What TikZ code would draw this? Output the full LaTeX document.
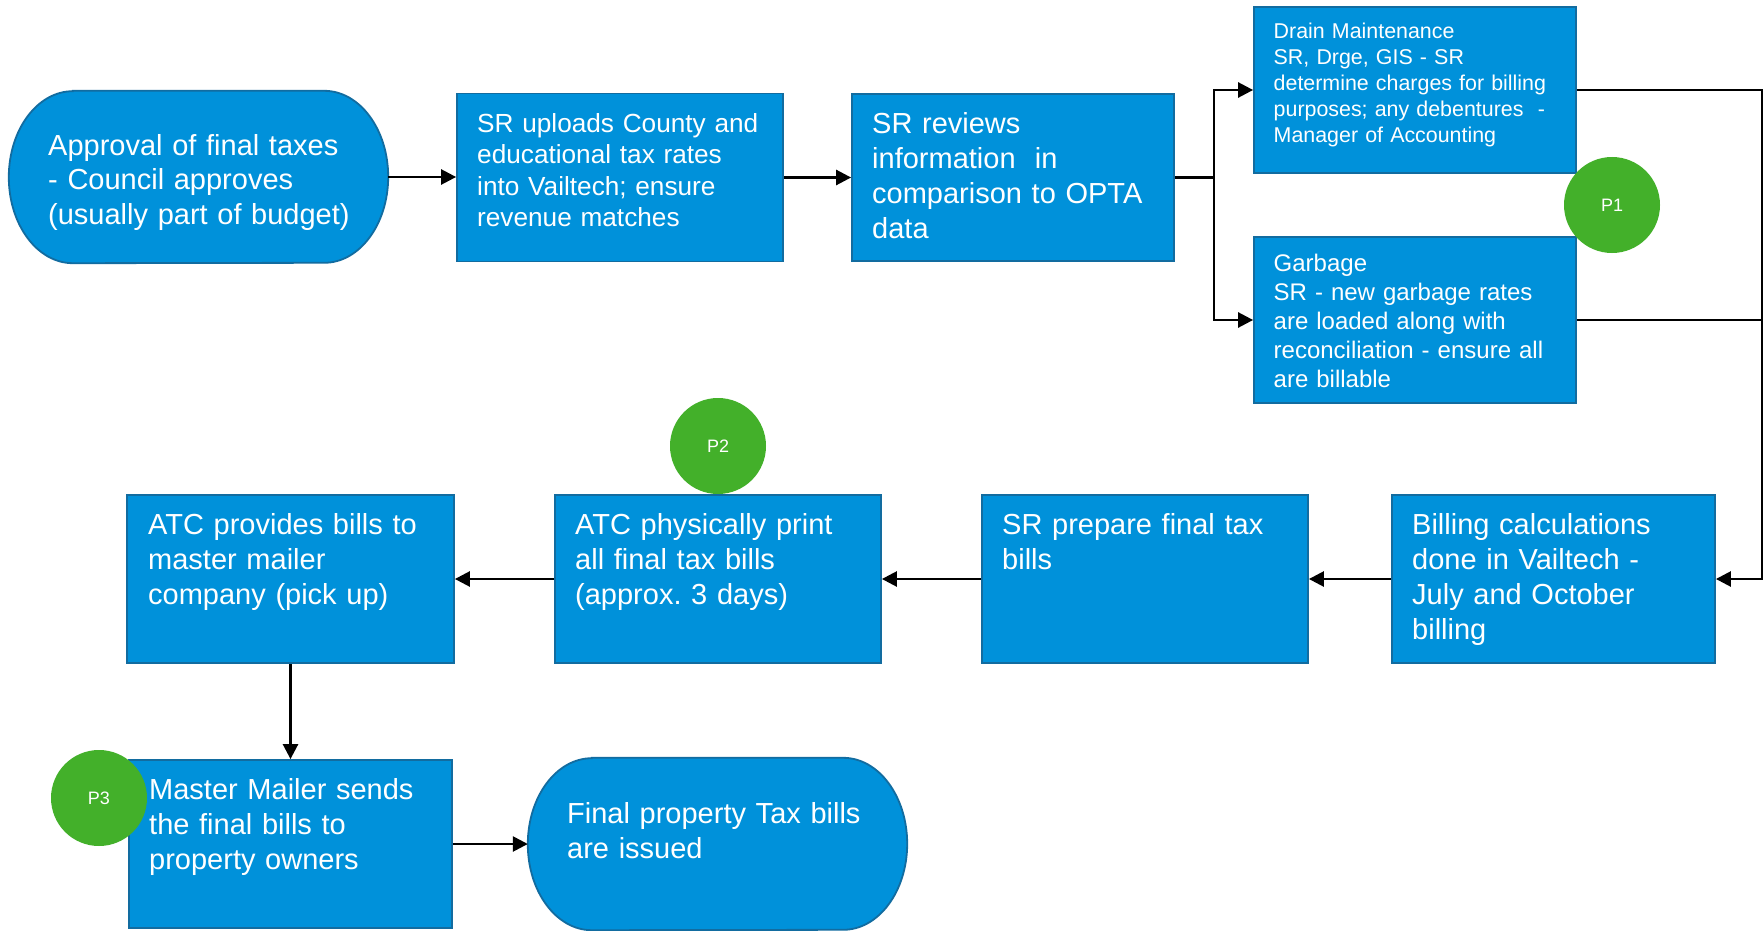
\documentclass[tikz,border=0pt]{standalone}
\usepackage{fontspec}
\setmainfont{Liberation Sans}
\usetikzlibrary{arrows.meta,calc}
\frenchspacing

\definecolor{boxblue}{RGB}{0,145,218}
\definecolor{boxedge}{RGB}{18,108,160}
\definecolor{badgegreen}{RGB}{67,176,42}

\tikzset{
  stepbox/.style={rectangle, draw=boxedge, fill=boxblue, line width=1.8pt, inner sep=0pt},
  termframe/.style={rectangle, inner sep=0pt},
  termshape/.style={draw=boxedge, fill=boxblue, line width=1.8pt},
  steptext/.style={anchor=base west, inner sep=0pt, text=white, align=left,
    text width=330pt, font=\fontsize{29}{35}\selectfont},
  smalltext/.style={steptext, font=\fontsize{21.4}{25.8}\selectfont},
  midtext/.style={steptext, font=\fontsize{24}{29}\selectfont},
  uptext/.style={steptext, font=\fontsize{26.2}{31.6}\selectfont},
  badge/.style={circle, fill=badgegreen, minimum size=96pt, inner sep=0pt,
    text=white, font=\fontsize{18}{21}\selectfont},
  wire/.style={line width=2.6pt, draw=black},
  flow/.style={wire, -{Triangle[length=15pt,width=15pt]}}
}

% flowchart terminator drawn around a named frame node
\newcommand\terminatorpath[1]{%
  \draw[termshape] ($(#1.north west)+(64,0)$) -- ($(#1.north east)+(-64,0)$)
    arc[start angle=90, end angle=-90, x radius=64pt, y radius=86pt]
    -- ($(#1.south west)+(64,0)$)
    arc[start angle=270, end angle=90, x radius=64pt, y radius=86pt] -- cycle;}

\begin{document}
\begin{tikzpicture}[x=1pt, y=-1pt]
  \useasboundingbox (0,0) rectangle (1764,931);
  \fill[white] (0,0) rectangle (1764,931);

  % frames for the two terminators
  \node[termframe, minimum width=379pt, minimum height=172pt] (start) at (198.5,177) {};
  \node[termframe, minimum width=379pt, minimum height=172pt] (final) at (717.5,844) {};
  \terminatorpath{start}
  \terminatorpath{final}

  % process boxes
  \node[stepbox, minimum width=326pt, minimum height=168pt] (upload)  at (620,177.5) {};
  \node[stepbox, minimum width=322pt, minimum height=167pt] (review)  at (1013,177.5) {};
  \node[stepbox, minimum width=322pt, minimum height=166pt] (drain)   at (1415,90) {};
  \node[stepbox, minimum width=322pt, minimum height=166pt] (garbage) at (1415,320) {};
  \node[stepbox, minimum width=323pt, minimum height=168pt] (billing) at (1553.5,579) {};
  \node[stepbox, minimum width=326pt, minimum height=168pt] (prepare) at (1145,579) {};
  \node[stepbox, minimum width=326pt, minimum height=168pt] (print)   at (718,579) {};
  \node[stepbox, minimum width=327pt, minimum height=168pt] (pickup)  at (290.5,579) {};
  \node[stepbox, minimum width=323pt, minimum height=168pt] (mailer)  at (290.5,844) {};

  % texts
  \node[steptext] (t-start) at (48,155) {Approval of final taxes\\- Council approves\\(usually part of budget)};
  \node[uptext] (t-upload) at (477,132) {SR uploads County and\\educational tax rates\\into Vailtech; ensure\\revenue matches};
  \node[steptext] (t-review) at (872,133.5) {SR reviews\\information\ \ in\\comparison to OPTA\\data};
  \node[smalltext] (t-drain) at (1273.5,39) {Drain Maintenance\\SR, Drge, GIS - SR\\determine charges for billing\\purposes; any debentures\ \ -\\Manager of Accounting};
  \node[midtext] (t-garbage) at (1273.5,271) {Garbage\\SR - new garbage rates\\are loaded along with\\reconciliation - ensure all\\are billable};
  \node[steptext] (t-billing) at (1412,534.5) {Billing calculations\\done in Vailtech -\\July and October\\billing};
  \node[steptext] (t-prepare) at (1002,534.5) {SR prepare final tax\\bills};
  \node[steptext] (t-print) at (575,534.5) {ATC physically print\\all final tax bills\\(approx. 3 days)};
  \node[steptext] (t-pickup) at (148,534.5) {ATC provides bills to\\master mailer\\company (pick up)};
  \node[steptext] (t-mailer) at (149,799.5) {Master Mailer sends\\the final bills to\\property owners};
  \node[steptext] (t-final) at (567,823.5) {Final property Tax bills\\are issued};

  % connectors
  \coordinate (split) at ($(review.east)+(39,0)$);
  \coordinate (railtop) at (1762,90);
  \coordinate (railbot) at (1762,579);

  \draw[flow] (start.east) -- (start.east -| upload.west);
  \draw[flow] (upload.east) -- (review.west);
  \draw[wire] (review.east) -- (split);
  \draw[flow] (split) |- (drain.west);
  \draw[flow] (split) |- (garbage.west);
  \draw[flow] (drain.east) -- (railtop) -- (railbot) -- (billing.east);
  \draw[wire] (garbage.east) -- (garbage.east -| railtop);
  \draw[flow] (billing.west) -- (prepare.east);
  \draw[flow] (prepare.west) -- (print.east);
  \draw[flow] (print.west) -- (pickup.east);
  \draw[flow] (pickup.south) -- (mailer.north);
  \draw[flow] (mailer.east) -- (final.west);

  % checkpoint badges
  \node[badge] (p1) at (1612,205) {P1};
  \node[badge] (p2) at (718,446) {P2};
  \node[badge] (p3) at (99,798) {P3};
\end{tikzpicture}
\end{document}
